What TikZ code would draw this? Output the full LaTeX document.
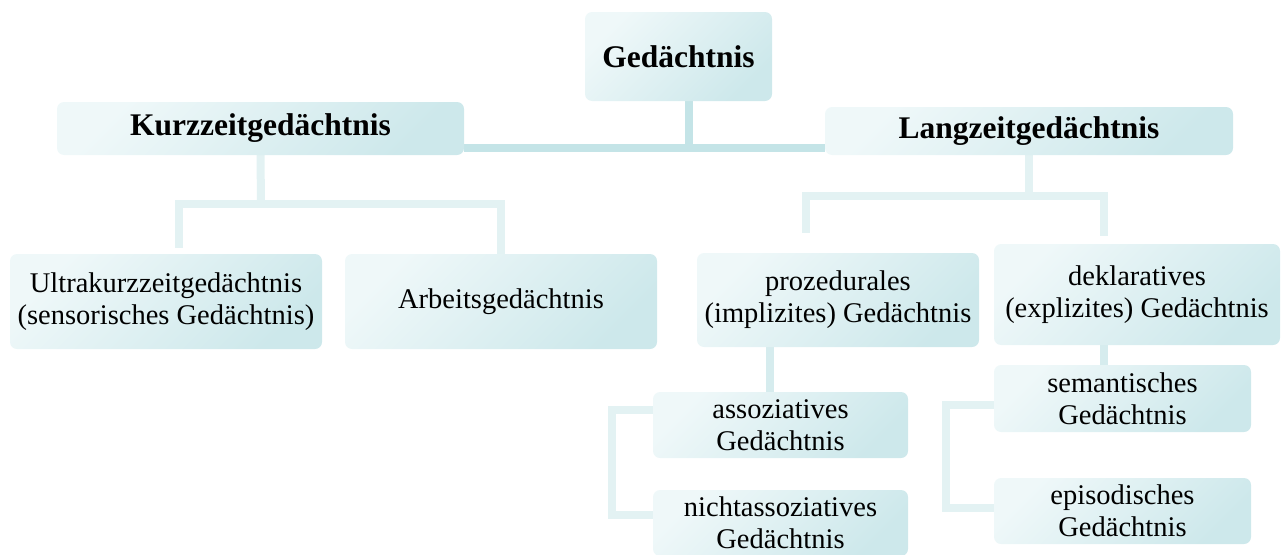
\documentclass[tikz,border=0pt]{standalone}
\usepackage{fontspec}
\setmainfont{Liberation Serif}
\usetikzlibrary{backgrounds}
\definecolor{boxlight}{HTML}{EFF8F9}
\definecolor{boxmid}{HTML}{E4F3F5}
\definecolor{boxdark}{HTML}{CDE8EB}
\definecolor{conndark}{HTML}{C4E4E7}
\definecolor{connmid}{HTML}{D6ECEE}
\definecolor{connlight}{HTML}{E3F2F3}
\tikzset{
  box/.style={rectangle, rounded corners=7pt, inner sep=0pt, align=center,
    top color=boxlight, middle color=boxmid, bottom color=boxdark, shading angle=45,
    font=\fontsize{28.5}{32}\selectfont},
  headbox/.style={box, font=\fontsize{31.5}{34}\selectfont\bfseries},
  conn/.style={draw=conndark, line width=8pt},
  connm/.style={draw=connmid, line width=8pt},
  connl/.style={draw=connlight, line width=8pt},
}
\begin{document}
\begin{tikzpicture}[x=1pt, y=-1pt]
\useasboundingbox (0,0) rectangle (1284,554);
% nodes
\node[headbox, minimum width=187pt, minimum height=89pt] (G) at (678.5,56.5) {Gedächtnis};
\node[headbox, minimum width=407pt, minimum height=53pt] (K) at (260.5,128.5) {Kurzzeitgedächtnis};
\node[headbox, minimum width=408pt, minimum height=48pt] (L) at (1029,131) {Langzeitgedächtnis};
\node[box, minimum width=312pt, minimum height=95pt] (U) at (166,301.5) {Ultrakurzzeitgedächtnis\\(sensorisches Gedächtnis)};
\node[box, minimum width=312pt, minimum height=95pt] (A) at (501,301.5) {Arbeitsgedächtnis};
\node[box, minimum width=282pt, minimum height=94pt] (P) at (838,300) {prozedurales\\(implizites) Gedächtnis};
\node[box, minimum width=286pt, minimum height=101pt] (D) at (1137,294.5) {deklaratives\\(explizites) Gedächtnis};
\node[box, minimum width=255pt, minimum height=66pt] (As) at (780.5,425) {assoziatives\\Gedächtnis};
\node[box, minimum width=255pt, minimum height=66pt] (N) at (780.5,523) {nichtassoziatives\\Gedächtnis};
\node[box, minimum width=257pt, minimum height=67pt] (S) at (1122.5,398.5) {semantisches\\Gedächtnis};
\node[box, minimum width=257pt, minimum height=66pt] (E) at (1122.5,511) {episodisches\\Gedächtnis};
% junction coordinates
\coordinate (gb) at (689,148);
\coordinate (kb) at (261,204);
\coordinate (kl) at (179,248);
\coordinate (lb) at (1029,196);
\coordinate (ll) at (806,233);
\coordinate (lr) at (1104,236);
\coordinate (pv) at (770,0);
\coordinate (bx) at (612,460);
\coordinate (dv) at (1104,0);
\coordinate (ex) at (946,456);
\begin{scope}[on background layer]
  \draw[conn] ([xshift=10.5pt]G.south) -- (gb);
  \draw[conn] (K.east |- gb) -- (L.west |- gb);
  \draw[connl] (K.south) -- (kb);
  \draw[connl] (kl) |- (kb) -| (A.north);
  \draw[connl] (L.south) -- (lb);
  \draw[connl] (ll) |- (lb) -| (lr);
  \draw[connm] (P.south -| pv) -- (As.north -| pv);
  \draw[connl] ([yshift=15pt]As.west) -| (bx) |- ([yshift=8pt]N.west);
  \draw[connm] (D.south -| dv) -- (S.north -| dv);
  \draw[connl] ([yshift=-6.5pt]S.west) -| (ex) |- ([yshift=3pt]E.west);
\end{scope}
\end{tikzpicture}
\end{document}
